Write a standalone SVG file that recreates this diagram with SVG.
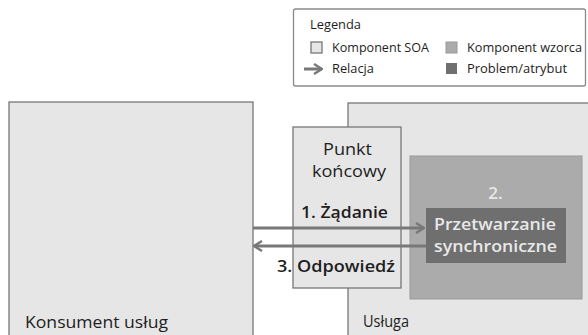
<svg xmlns="http://www.w3.org/2000/svg" width="588" height="335" viewBox="0 0 588 335">
  <style>
    text { font-family: "Open Sans", "Liberation Sans", sans-serif; fill: #1e1e1e; }
    .lg { font-size: 12.5px; }
    .big { font-size: 17px; }
    .bold { font-weight: 600; }
    .soa { fill: #e6e6e6; stroke: #777; stroke-width: 1.3; }
    .pat { fill: #ababab; stroke: #999; stroke-width: 1; }
    .prob { fill: #6f6f6f; }
    .light { fill: #e8e8e8; }
    .rel { stroke: #787878; stroke-width: 3; fill: none; }
  </style>
  <defs>
    <marker id="head" viewBox="0 0 10 12" refX="9" refY="6" markerWidth="10" markerHeight="12" markerUnits="userSpaceOnUse" orient="auto">
      <path d="M1,1 L9,6 L1,11" fill="none" stroke="#787878" stroke-width="2.4"/>
    </marker>
  </defs>
  <rect width="588" height="335" fill="#fff"/>

  <!-- Legend -->
  <g id="legend">
    <rect x="293.5" y="9" width="292" height="77" rx="2" fill="#fff" stroke="#8a8a8a" stroke-width="1.3"/>
    <text class="lg" x="310" y="29" textLength="51" lengthAdjust="spacingAndGlyphs">Legenda</text>
    <rect x="311" y="42" width="11" height="11" class="soa" stroke-width="1"/>
    <text class="lg" x="332" y="52" textLength="97" lengthAdjust="spacingAndGlyphs">Komponent SOA</text>
    <rect x="446" y="42" width="11" height="11" class="pat"/>
    <text class="lg" x="467" y="52" textLength="115" lengthAdjust="spacingAndGlyphs">Komponent wzorca</text>
    <line x1="304" y1="69" x2="322" y2="69" class="rel" stroke-width="2.2" marker-end="url(#head)"/>
    <text class="lg" x="332" y="73" textLength="42" lengthAdjust="spacingAndGlyphs">Relacja</text>
    <rect x="446" y="63" width="11" height="11" class="prob"/>
    <text class="lg" x="467" y="73" textLength="100" lengthAdjust="spacingAndGlyphs">Problem/atrybut</text>
  </g>

  <!-- Service consumer -->
  <g id="consumer">
    <rect x="9" y="102" width="244" height="240" class="soa"/>
    <text class="big" x="25" y="328" textLength="143" lengthAdjust="spacingAndGlyphs">Konsument usług</text>
  </g>

  <!-- Service -->
  <g id="service">
    <rect x="348" y="103" width="250" height="240" class="soa"/>
    <text class="big" x="363" y="327" textLength="46" lengthAdjust="spacingAndGlyphs">Usługa</text>
  </g>

  <!-- Pattern component -->
  <g id="pattern">
    <rect x="410" y="156" width="172" height="143" class="pat"/>
    <text class="big bold light" x="495.5" y="199" text-anchor="middle">2.</text>
  </g>

  <!-- Synchronous processing -->
  <g id="processing">
    <rect x="426" y="208" width="140" height="55" class="prob"/>
    <text class="big bold light" x="434" y="230" textLength="122" lengthAdjust="spacingAndGlyphs">Przetwarzanie</text>
    <text class="big bold light" x="434" y="252" textLength="123" lengthAdjust="spacingAndGlyphs">synchroniczne</text>
  </g>

  <!-- Endpoint -->
  <g id="endpoint">
    <rect x="293" y="127" width="108" height="161" class="soa"/>
    <text class="big" x="323" y="155" textLength="49" lengthAdjust="spacingAndGlyphs">Punkt</text>
    <text class="big" x="312" y="177" textLength="74" lengthAdjust="spacingAndGlyphs">końcowy</text>
  </g>

  <!-- Connectors -->
  <g id="connectors">
    <line x1="253" y1="228" x2="424" y2="228" class="rel" marker-end="url(#head)"/>
    <line x1="426" y1="246" x2="254" y2="246" class="rel" marker-end="url(#head)"/>
    <text class="big bold" x="301" y="218" textLength="87" lengthAdjust="spacingAndGlyphs">1. Żądanie</text>
    <text class="big bold" x="277" y="272" textLength="118" lengthAdjust="spacingAndGlyphs">3. Odpowiedź</text>
  </g>
</svg>
